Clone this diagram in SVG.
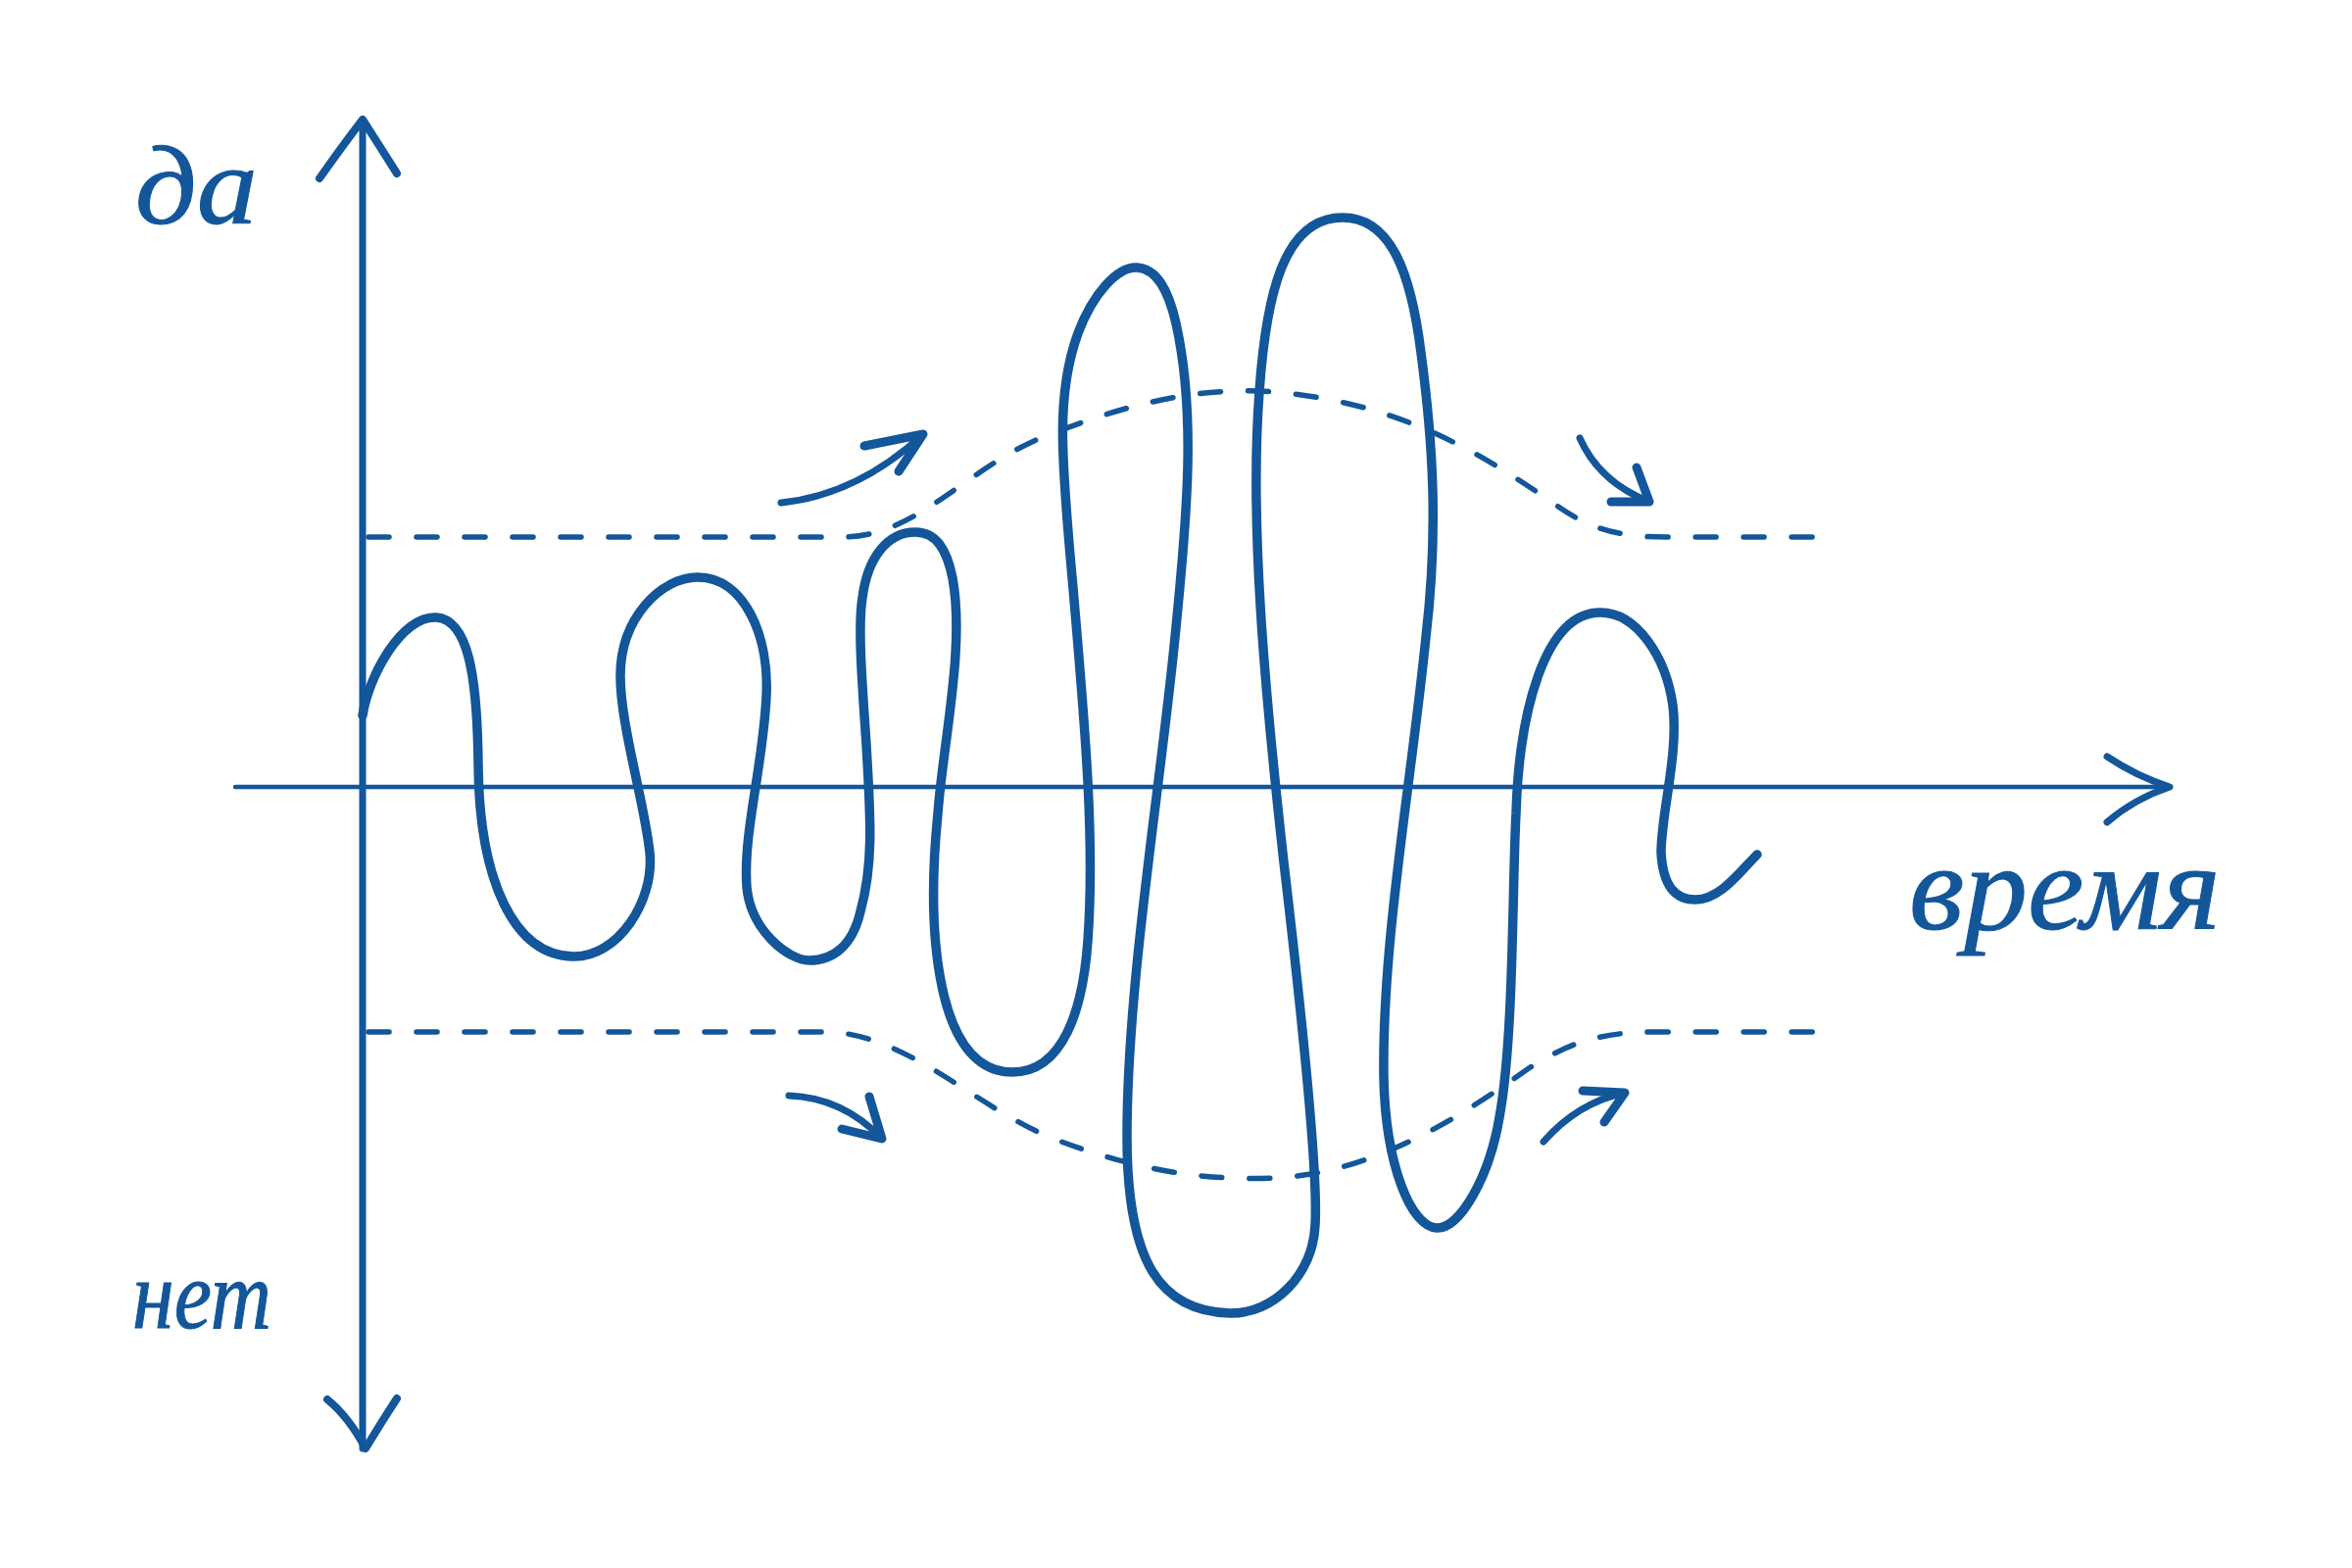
<svg xmlns="http://www.w3.org/2000/svg" width="2400" height="1600" viewBox="0 0 2400 1600">
<style>
.ink{fill:none;stroke:#13569a;stroke-linecap:round;stroke-linejoin:round}
.dash{fill:none;stroke:#13569a;stroke-width:5.5;stroke-linecap:round;stroke-dasharray:21 28}
.lbl{font-family:"Liberation Serif",serif;font-style:italic;fill:#13569a;stroke:#13569a;stroke-width:1}
</style>
<rect width="2400" height="1600" fill="#ffffff"/>
<g id="axes">
<path class="ink" stroke-width="7" d="M370,1478 L370,124"/>
<path class="ink" stroke-width="8" d="M326,182 Q350,148 370,122 Q388,150 405,177"/>
<path class="ink" stroke-width="8" d="M334,1428 Q356,1446 373,1478 Q390,1450 405,1427"/>
<path class="ink" stroke-width="4.5" d="M240,803 L2212,803"/>
<path class="ink" stroke-width="7" d="M2150,772 Q2180,792 2214,803 Q2178,815 2150,839"/>
</g>
<g id="guides">
<path class="dash" d="M376,548 L860,548 C940,548 990,470 1080,440 C1170,405 1240,395 1300,400 C1420,410 1500,455 1580,510 C1615,535 1640,548 1700,548 L1876,548"/>
<path class="dash" d="M376,1053 L850,1053 C930,1060 990,1125 1070,1160 C1160,1195 1230,1205 1300,1202 C1400,1198 1490,1140 1560,1090 C1600,1065 1630,1053 1690,1053 L1876,1053"/>
</g>
<g id="curve">
<path class="ink" stroke-width="9.5" d="M370,730 C376,690 410,628 445,630 C478,632 487,690 488,780 C489,900 525,975 585,976 C630,977 668,920 663,870 C658,820 633,740 633,690 C633,630 675,589 712,589 C760,589 785,650 782,710 C779,780 758,850 762,905 C766,950 805,980 826,980 C850,980 870,965 878,930 C892,880 888,830 884,760 C880,700 875,640 880,610 C885,570 905,543 934,543 C955,543 966,560 972,590 C985,660 962,760 957,830 C945,950 955,1094 1033,1094 C1085,1094 1105,1030 1110,960 C1118,850 1105,720 1095,600 C1082,460 1078,400 1100,340 C1115,300 1140,272 1160,273 C1180,274 1192,295 1200,330 C1220,420 1212,520 1200,640 C1185,800 1150,1000 1150,1160 C1150,1290 1185,1338 1255,1340 C1300,1341 1340,1300 1342,1250 C1345,1200 1330,1050 1310,880 C1290,700 1275,530 1285,400 C1292,300 1310,222 1370,222 C1420,222 1440,280 1450,360 C1462,450 1468,540 1455,650 C1440,800 1410,960 1412,1100 C1414,1190 1440,1252 1466,1253 C1490,1254 1520,1200 1530,1140 C1545,1060 1543,900 1547,830 C1550,730 1575,625 1633,625 C1670,625 1700,670 1707,720 C1713,770 1695,830 1695,870 C1697,905 1710,918 1730,918 C1755,918 1775,890 1793,872"/>
</g>
<g id="arrows">
<path class="ink" stroke-width="7" d="M797,513 Q875,505 942,443"/>
<path class="ink" stroke-width="9" d="M882,455 L942,443 L917,481"/>
<path class="ink" stroke-width="7" d="M1612,447 Q1632,492 1683,512"/>
<path class="ink" stroke-width="9" d="M1644,512 L1683,512 L1670,477"/>
<path class="ink" stroke-width="7" d="M805,1118 Q860,1120 900,1162"/>
<path class="ink" stroke-width="9" d="M859,1152 L900,1162 L887,1119"/>
<path class="ink" stroke-width="7" d="M1575,1165 Q1610,1125 1658,1115"/>
<path class="ink" stroke-width="9" d="M1615,1113 L1658,1115 L1637,1145"/>
</g>
<g id="labels">
<text class="lbl" x="138" y="228" font-size="115" textLength="125" lengthAdjust="spacingAndGlyphs">да</text>
<text class="lbl" x="135" y="1355" font-size="100" textLength="142" lengthAdjust="spacingAndGlyphs">нет</text>
<text class="lbl" x="1948" y="948" font-size="125" textLength="318" lengthAdjust="spacingAndGlyphs">время</text>
</g>
</svg>
